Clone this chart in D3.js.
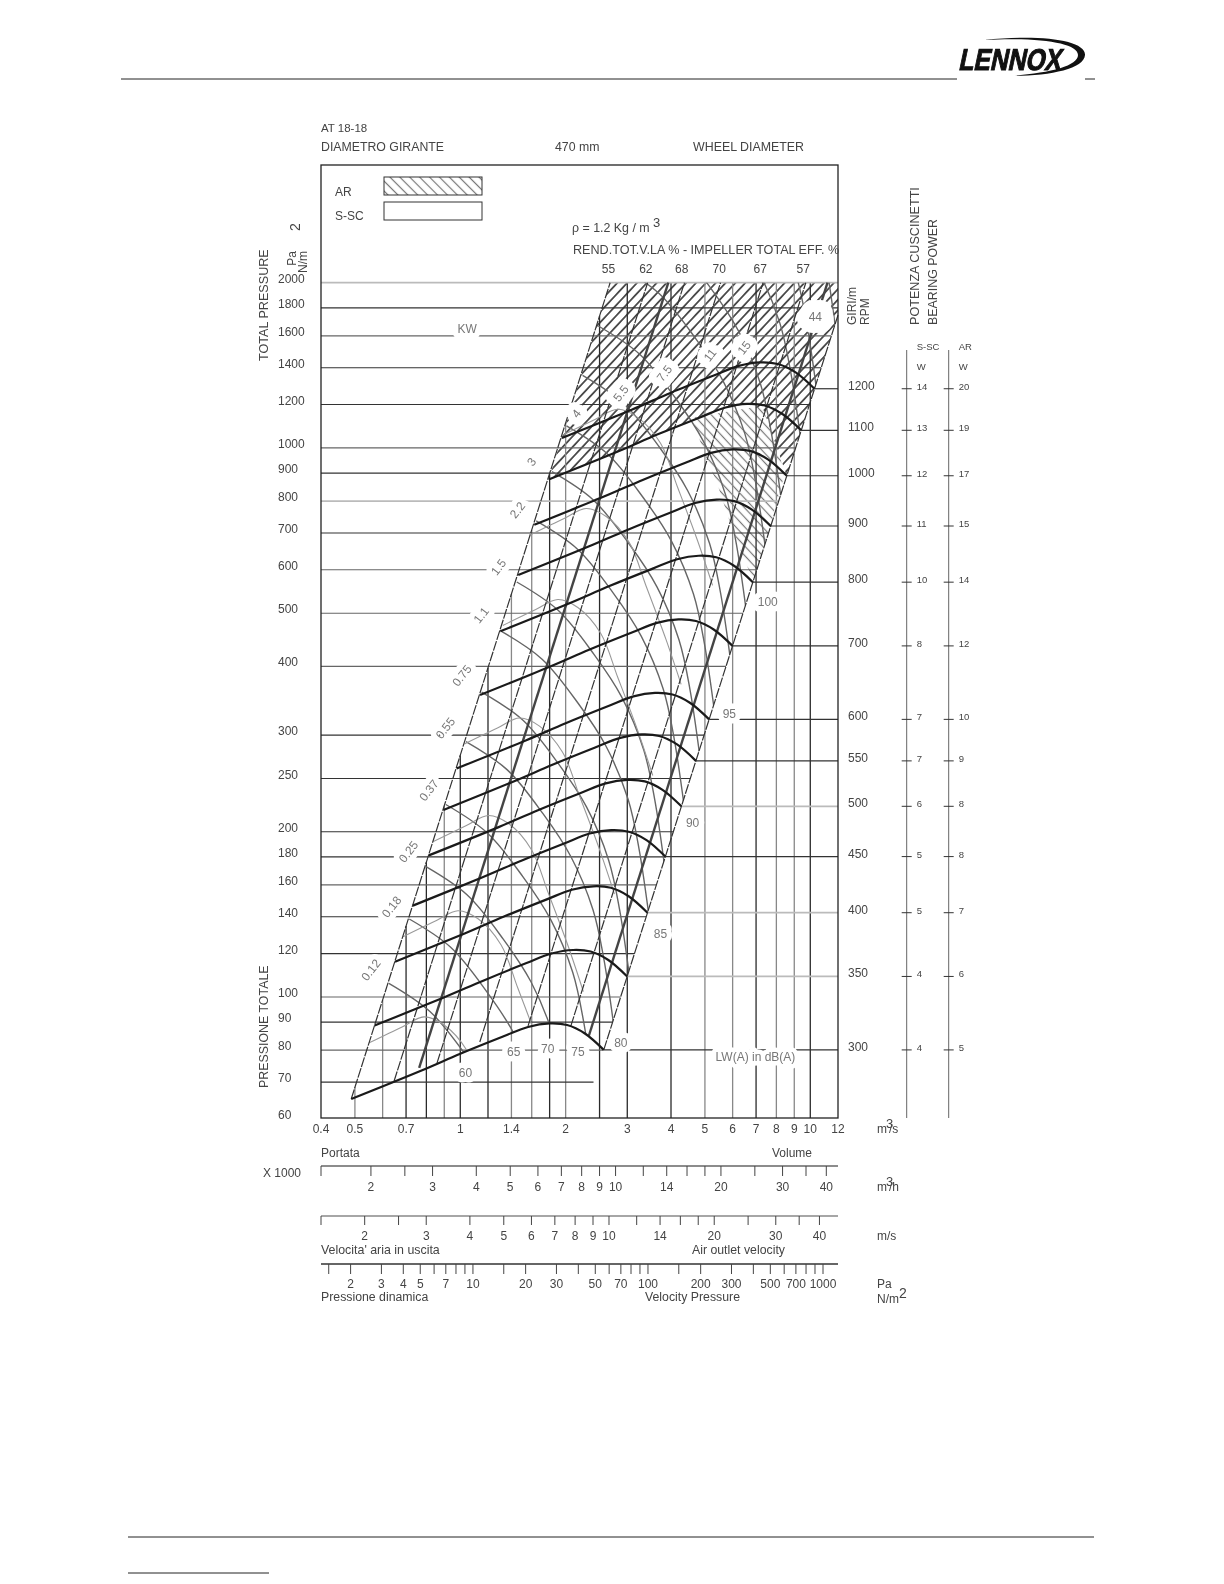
<!DOCTYPE html>
<html>
<head>
<meta charset="utf-8">
<title>AT 18-18</title>
<script src="https://cdnjs.cloudflare.com/ajax/libs/d3/7.8.5/d3.min.js"></script>
<style>
body { margin: 0; background: #fff; }
svg { display: block; filter: blur(0.4px); }
text { font-family: "Liberation Sans", Arial, sans-serif; font-size: 12px; fill: #444; }
</style>
</head>
<body>
<script>
//axis values
var volumeTicks = [0.4, 0.5, 0.6, 0.7, 0.8, 0.9, 1, 1.2, 1.4, 1.6, 1.8, 2, 2.5, 3, 4, 5, 6, 7, 8, 9, 10, 12];
var volumeLabels = [0.4, 0.5, 0.7, 1, 1.4, 2, 3, 4, 5, 6, 7, 8, 9, 10, 12];
var lightVolume = [0.5, 0.6, 0.9, 1.4, 1.6, 2, 5, 6, 8, 9];
var pressureTicks = [2000, 1800, 1600, 1400, 1200, 1000, 900, 800, 700, 600, 500, 400, 300, 250, 200, 180, 160, 140, 120, 100, 90, 80, 70, 60];
var palePressure = [2000, 800];
var midPressure = [1600, 1000, 600, 500, 400, 160, 100, 80];
var flowTicks = [1.44, 2, 2.5, 3, 4, 5, 6, 7, 8, 9, 10, 12, 14, 16, 18, 20, 25, 30, 35, 40];
var flowLabels = [2, 3, 4, 5, 6, 7, 8, 9, 10, 14, 20, 30, 40];
var speedTicks = [1.5, 2, 2.5, 3, 4, 5, 6, 7, 8, 9, 10, 12, 14, 16, 18, 20, 25, 30, 35, 40];
var speedLabels = [2, 3, 4, 5, 6, 7, 8, 9, 10, 14, 20, 30, 40];
var dynTicks = [1.5, 2, 3, 4, 5, 6, 7, 8, 9, 10, 15, 20, 30, 40, 50, 60, 70, 80, 90, 100, 150, 200, 300, 400, 500, 600, 700, 800, 900, 1000];
var dynLabels = [2, 3, 4, 5, 7, 10, 20, 30, 50, 70, 100, 200, 300, 500, 700, 1000];

//fan speed curves, volume m3/s and pressure Pa
var rpmLevels = [300, 350, 400, 450, 500, 550, 600, 700, 800, 900, 1000, 1100, 1200];
var rpmPale = [500, 400, 350];
var rpmQ = [
    [0.488, 0.772, 1.0, 1.325, 1.562, 1.80, 2.02, 2.27, 2.57],
    [0.569, 0.901, 1.167, 1.546, 1.822, 2.10, 2.357, 2.648, 2.998],
    [0.651, 1.029, 1.333, 1.767, 2.083, 2.40, 2.693, 3.027, 3.427],
    [0.732, 1.158, 1.5, 1.988, 2.343, 2.70, 3.03, 3.405, 3.855],
    [0.813, 1.287, 1.667, 2.208, 2.603, 3.0, 3.367, 3.783, 4.283],
    [0.895, 1.415, 1.833, 2.429, 2.864, 3.30, 3.703, 4.162, 4.712],
    [0.976, 1.544, 2, 2.65, 3.124, 3.60, 4.04, 4.54, 5.14],
    [1.139, 1.801, 2.333, 3.092, 3.645, 4.20, 4.713, 5.297, 5.997],
    [1.301, 2.059, 2.667, 3.533, 4.165, 4.80, 5.387, 6.053, 6.853],
    [1.464, 2.316, 3, 3.975, 4.686, 5.40, 6.06, 6.81, 7.71],
    [1.627, 2.573, 3.333, 4.417, 5.207, 6.0, 6.733, 7.567, 8.567],
    [1.789, 2.831, 3.667, 4.858, 5.727, 6.6, 7.407, 8.323, 9.423],
    [1.952, 3.088, 4, 5.30, 6.248, 7.2, 8.08, 9.08, 10.28]
];
var rpmP = [
    [65.2, 73.4, 78.8, 84.7, 88.2, 89.5, 88.9, 85.8, 80.1],
    [88.7, 99.9, 107.2, 115.3, 120, 121.8, 121, 116.8, 109],
    [115.9, 130.5, 140.1, 150.6, 156.8, 159.1, 158.1, 152.6, 142.4],
    [146.7, 165.2, 177.3, 190.6, 198.5, 201.4, 200, 193.1, 180.2],
    [181.1, 203.9, 218.9, 235.3, 245, 248.6, 247, 238.4, 222.5],
    [219.1, 246.7, 264.8, 284.7, 296.4, 300.8, 298.8, 288.4, 269.2],
    [260.8, 293.6, 315.2, 338.8, 352.8, 358, 355.6, 343.2, 320.4],
    [354.9, 399.6, 429, 461.1, 480.2, 487.2, 484, 467.1, 436],
    [463.6, 522, 560.4, 602.3, 627.2, 636.4, 632.2, 610.1, 569.6],
    [586.8, 660.6, 709.2, 762.3, 793.8, 805.5, 800.1, 772.2, 720.9],
    [724.4, 815.5, 875.5, 941, 979.9, 994.3, 987.7, 953.2, 890],
    [876.5, 986.5, 1059, 1138, 1185, 1203, 1195, 1153, 1077],
    [1043, 1174, 1261, 1355, 1411, 1432, 1422, 1373, 1282]
];

//bearing power in W for each speed, top to bottom
var bearingRpm = [1200, 1100, 1000, 900, 800, 700, 600, 550, 500, 450, 400, 350, 300];
var bearingSsc = [14, 13, 12, 11, 10, 8, 7, 7, 6, 5, 5, 4, 4];
var bearingAr = [20, 19, 17, 15, 14, 12, 10, 9, 8, 8, 7, 6, 5];

//kW lines
var kwQ = [
    [0.625, 0.819, 1.038, 1.247, 1.441, 1.549, 1.676, 1.79, 1.913],
    [0.715, 0.937, 1.187, 1.426, 1.649, 1.772, 1.918, 2.048, 2.188],
    [0.798, 1.045, 1.325, 1.592, 1.84, 1.978, 2.14, 2.285, 2.442],
    [0.909, 1.191, 1.509, 1.813, 2.096, 2.253, 2.438, 2.603, 2.782],
    [1.038, 1.36, 1.723, 2.071, 2.394, 2.573, 2.784, 2.973, 3.176],
    [1.151, 1.508, 1.911, 2.296, 2.654, 2.853, 3.087, 3.296, 3.522],
    [1.308, 1.713, 2.171, 2.609, 3.016, 3.242, 3.508, 3.746, 4.002],
    [1.45, 1.9, 2.407, 2.893, 3.344, 3.595, 3.889, 4.153, 4.437],
    [1.648, 2.159, 2.736, 3.288, 3.8, 4.085, 4.42, 4.72, 5.043],
    [1.828, 2.395, 3.034, 3.647, 4.215, 4.532, 4.903, 5.235, 5.594],
    [2.011, 2.634, 3.338, 4.012, 4.637, 4.985, 5.393, 5.76, 6.154],
    [2.236, 2.929, 3.712, 4.461, 5.156, 5.543, 5.997, 6.404, 6.842],
    [2.48, 3.249, 4.117, 4.948, 5.719, 6.148, 6.651, 7.103, 7.589],
    [2.818, 3.692, 4.678, 5.622, 6.498, 6.986, 7.558, 8.071, 8.623],
    [3.125, 4.094, 5.188, 6.234, 7.206, 7.747, 8.381, 8.95, 9.563],
    [3.55, 4.651, 5.893, 7.082, 8.186, 8.8, 9.521, 10.17, 10.86],
    [3.94, 5.161, 6.54, 7.86, 9.086, 9.767, 10.57, 11.28, 12.06],
    [4.47, 5.856, 7.42, 8.918, 10.31, 11.08, 11.99, 12.8, 13.68]
];
var kwP = [
    [105.9, 94.1, 78.3, 65.3, 52.3, 42.5, 30.1, 21.5, 14.7],
    [138.7, 123.3, 102.5, 85.6, 68.5, 55.6, 39.4, 28.2, 19.3],
    [172.7, 153.5, 127.6, 106.6, 85.3, 69.3, 49, 35.1, 24],
    [224.2, 199.3, 165.7, 138.3, 110.8, 89.9, 63.7, 45.5, 31.2],
    [291.9, 259.5, 215.7, 180.1, 144.2, 117.1, 82.9, 59.3, 40.6],
    [359.3, 319.4, 265.5, 221.7, 177.5, 144.1, 102, 72.9, 49.9],
    [463.9, 412.4, 342.8, 286.2, 229.2, 186, 131.7, 94.2, 64.5],
    [570, 506.7, 421.2, 351.7, 281.6, 228.6, 161.9, 115.7, 79.2],
    [736.4, 654.7, 544.2, 454.4, 363.8, 295.3, 209.1, 149.5, 102.4],
    [905.4, 804.9, 669.1, 558.6, 447.3, 363.1, 257.1, 183.8, 125.9],
    [1097, 975.2, 810.7, 676.8, 541.9, 439.9, 311.5, 222.7, 152.5],
    [1356, 1205, 1002, 836.7, 669.9, 543.8, 385.1, 275.3, 188.5],
    [1668, 1483, 1233, 1029, 824, 668.9, 473.7, 338.6, 231.9],
    [2152, 1913, 1590, 1328, 1063, 863, 611, 437, 299],
    [2648, 2354, 1957, 1634, 1308, 1062, 752, 538, 368],
    [3416, 3037, 2524, 2108, 1688, 1370, 970, 693, 475],
    [4204, 3737, 3107, 2594, 2077, 1686, 1194, 853, 584],
    [5412, 4811, 3999, 3339, 2674, 2170, 1537, 1099, 752]
];
var kwLabels = ['0.12', '0.18', '0.25', '0.37', '0.55', '0.75', '1.1', '1.5', '2.2', '3', '4', '5.5', '7.5', '11', '15', '44'];
var kwLabelQ = [0.555, 0.636, 0.711, 0.813, 0.906, 1.01, 1.147, 1.286, 1.456, 1.597, 2.145, 2.876, 3.83, 5.17, 6.47, 10.34];
var kwLabelP = [112, 146, 184, 238, 309, 385, 496, 607, 771, 944, 1156, 1258, 1368, 1477, 1523, 1735];

//noise lines
var lwQ = [
    [0.549, 0.682, 0.788, 0.899, 1.046, 1.170, 1.333, 1.472],
    [0.686, 0.852, 0.985, 1.124, 1.307, 1.462, 1.666, 1.840],
    [0.838, 1.041, 1.203, 1.373, 1.596, 1.786, 2.035, 2.247],
    [1.028, 1.277, 1.476, 1.684, 1.958, 2.191, 2.496, 2.757],
    [1.323, 1.643, 1.900, 2.167, 2.520, 2.819, 3.212, 3.548],
    [1.594, 1.980, 2.289, 2.611, 3.037, 3.397, 3.870, 4.275],
    [1.96, 2.434, 2.815, 3.210, 3.734, 4.177, 4.759, 5.257]
];
var lwP = [
    [82.5, 88.2, 92.0, 88.9, 79.8, 66.3, 53.1, 44],
    [128.8, 137.7, 143.6, 138.8, 124.5, 103.6, 82.9, 68.6],
    [192, 205.2, 214.1, 207, 185.7, 154.4, 123.6, 102.3],
    [289, 308.9, 322.2, 311.5, 279.5, 232.4, 186.1, 154],
    [475, 507.8, 529.6, 512.1, 459.3, 381.9, 305.9, 253.2],
    [696, 744, 776, 750, 673, 560, 448, 371],
    [1055, 1128, 1176, 1137, 1020, 848, 679, 562]
];
var lwLabels = [60, 65, 70, 75, 80, 85, 90, 95, 100];
var lwLabelQ = [1.035, 1.422, 1.777, 2.17, 2.876, 3.73, 4.61, 5.87, 7.56];
var lwLabelP = [72.7, 79.5, 80.6, 79.5, 82.4, 130.6, 207.2, 327.7, 524.8];

//efficiency lines, bottom point and top point
var effLabels = [55, 62, 68, 70, 67, 57];
var effLabelQ = [2.65, 3.39, 4.29, 5.49, 7.19, 9.54];
var dashQ = [[0.488, 2.68], [0.647, 3.43], [0.858, 4.37], [1.137, 5.54], [1.562, 7.33], [2.07, 9.71], [2.57, 12]];
var dashP = [[65.2, 2000], [70.3, 2000], [75.8, 2000], [82.8, 2000], [88.6, 2000], [88.6, 2000], [80.1, 1746]];
var thickQ = [[0.763, 3.93], [2.33, 11.2]];
var thickP = [[74.3, 2000], [85, 2000]];

//hatched limits
var arOuterQ = [2.68, 12, 12, 10.28, 9.423, 8.567, 7.36];
var arOuterP = [2000, 2000, 1746, 1282, 1077, 890, 1171];
var sscQ = [4.6, 7.1, 7.36, 8.47, 6.89, 6.31, 5.82, 5.42, 4.94];
var sscP = [1136, 1190, 1171, 900, 571, 652, 750, 862, 992];

var svgCanvasW = 1224, svgCanvasH = 1584;
var left = 321, right = 838, top_ = 165, bottom = 1118;

var mainLayout = d3.select('body')
    .append('svg')
    .attr('width', svgCanvasW)
    .attr('height', svgCanvasH);

var x = d3.scaleLog().domain([0.4, 12]).range([left, right]);
var y = d3.scaleLog().domain([60, 2000]).range([bottom + 0.8, 282.7]);
var flowX = d3.scaleLog().domain([1.44, 43.2]).range([left, right]);
var speedX = d3.scaleLog().domain([1.5, 45.2]).range([left, right]);
var dynX = d3.scaleLog().domain([1.355, 1218]).range([left, right]);

var zip = function (qs, ps) { return qs.map(function (q, i) { return [x(q), y(ps[i])]; }); };
var curve = d3.line().curve(d3.curveCatmullRom.alpha(0.5));
var straight = d3.line();

//left and right limits of the working area
var leftEdgeY = d3.scaleLog().domain([dashQ[0][0], dashQ[0][1]]).range([y(dashP[0][0]), y(dashP[0][1])]);
var rightEdgeX = d3.scaleLog().domain([dashP[6][0], dashP[6][1]]).range([x(dashQ[6][0]), x(dashQ[6][1])]);

var defs = mainLayout.append('defs');
function hatch(id, angle, gap, color, width) {
    var p = defs.append('pattern')
        .attr('id', id)
        .attr('patternUnits', 'userSpaceOnUse')
        .attr('width', gap).attr('height', gap)
        .attr('patternTransform', 'rotate(' + angle + ')');
    p.append('line').attr('x1', gap / 2).attr('y1', 0).attr('x2', gap / 2).attr('y2', gap)
        .attr('stroke', color).attr('stroke-width', width);
}
hatch('hatchFw', 43, 7.2, '#333', 1.6);
hatch('hatchBk', -43, 6.5, '#777', 1.2);
hatch('hatchLegend', -45, 7, '#777', 1.2);

//area clip, left edge, top, right edge then the 300 rpm curve back
var areaPts = [[x(dashQ[0][1]), y(2000)], [x(12), y(2000)], [x(dashQ[6][1]), y(dashP[6][1])]];
var clipPath = 'M' + areaPts.join('L') + 'L' + curve(zip(rpmQ[0], rpmP[0]).reverse()).slice(1) + 'Z';
defs.append('clipPath').attr('id', 'areaClip').append('path').attr('d', clipPath);

//hatched regions
var arPts = zip(arOuterQ, arOuterP).concat(zip(rpmQ[11].slice(0, 6), rpmP[11].slice(0, 6)).reverse());
mainLayout.append('path').attr('d', straight(arPts) + 'Z').style('fill', 'url(#hatchFw)');
mainLayout.append('path').attr('d', straight(zip(sscQ, sscP)) + 'Z').style('fill', 'url(#hatchBk)');

//vertical grid, from the axis up to the left edge of the area
mainLayout.append('g').selectAll('line').data(volumeTicks.slice(1, -1)).enter().append('line')
    .attr('x1', function (d) { return x(d); })
    .attr('x2', function (d) { return x(d); })
    .attr('y1', bottom)
    .attr('y2', function (d) { return Math.max(leftEdgeY(d), y(2000)); })
    .style('stroke', function (d) { return lightVolume.indexOf(d) >= 0 ? '#888' : '#2a2a2a'; })
    .style('stroke-width', 1.3);

//horizontal grid, from the frame to the right edge of the area
mainLayout.append('g').selectAll('line').data(pressureTicks.slice(0, -1)).enter().append('line')
    .attr('x1', left)
    .attr('x2', function (d) { return d == 2000 ? right : Math.min(rightEdgeX(d), right); })
    .attr('y1', function (d) { return y(d); })
    .attr('y2', function (d) { return y(d); })
    .style('stroke', function (d) {
        return palePressure.indexOf(d) >= 0 ? '#bbb' : (midPressure.indexOf(d) >= 0 ? '#666' : '#333');
    })
    .style('stroke-width', function (d) { return palePressure.indexOf(d) >= 0 ? 1.7 : 1.2; });

//speed lines out to the right of the frame
mainLayout.append('g').selectAll('line').data(rpmLevels).enter().append('line')
    .attr('x1', function (d, i) { return x(rpmQ[i][8]); })
    .attr('x2', right)
    .attr('y1', function (d, i) { return y(rpmP[i][8]); })
    .attr('y2', function (d, i) { return y(rpmP[i][8]); })
    .style('stroke', function (d) { return rpmPale.indexOf(d) >= 0 ? '#bbb' : '#333'; })
    .style('stroke-width', function (d) { return rpmPale.indexOf(d) >= 0 ? 1.7 : 1.2; });

//kW and noise lines
var clipped = mainLayout.append('g').attr('clip-path', 'url(#areaClip)');
clipped.selectAll('path.kw').data(kwQ).enter().append('path')
    .attr('class', 'kw')
    .attr('d', function (d, i) { return curve(zip(d, kwP[i])); })
    .style('fill', 'none').style('stroke', '#666').style('stroke-width', 1.4);
clipped.selectAll('path.lw').data(lwQ).enter().append('path')
    .attr('class', 'lw')
    .attr('d', function (d, i) { return curve(zip(d, lwP[i])); })
    .style('fill', 'none').style('stroke', '#999').style('stroke-width', 1.1);

//efficiency lines
mainLayout.append('g').selectAll('path').data(dashQ).enter().append('path')
    .attr('d', function (d, i) { return straight(zip(d, dashP[i])); })
    .style('fill', 'none').style('stroke', '#333').style('stroke-width', 1.2).style('stroke-dasharray', '10,1.2');
mainLayout.append('g').selectAll('path').data(thickQ).enter().append('path')
    .attr('d', function (d, i) { return straight(zip(d, thickP[i])); })
    .style('fill', 'none').style('stroke', '#444').style('stroke-width', 2.4);

//fan speed curves
mainLayout.append('g').selectAll('path').data(rpmQ).enter().append('path')
    .attr('d', function (d, i) { return curve(zip(d, rpmP[i])); })
    .style('fill', 'none').style('stroke', '#1a1a1a').style('stroke-width', 2.2);

//frame
mainLayout.append('rect')
    .attr('x', left).attr('y', top_)
    .attr('width', right - left).attr('height', bottom - top_)
    .style('fill', 'none').style('stroke', '#222').style('stroke-width', 1.3);

//labels sitting on the lines, with a white gap round them
function halo(text, px, py, rotate, size) {
    return mainLayout.append('text')
        .attr('text-anchor', 'middle')
        .attr('transform', 'translate(' + px + ',' + py + ') rotate(' + (rotate || 0) + ')')
        .attr('dy', '0.35em')
        .text(text)
        .style('fill', '#777')
        .style('stroke', '#fff')
        .style('stroke-width', size || 11)
        .style('stroke-linejoin', 'round')
        .style('paint-order', 'stroke');
}
kwLabels.forEach(function (d, i) {
    var blob = d == '44' ? 24 : (i >= 10 ? 15 : 11);
    halo(d, x(kwLabelQ[i]), y(kwLabelP[i]), d == '44' ? 0 : -52, blob);
});
lwLabels.forEach(function (d, i) { halo(d, x(lwLabelQ[i]), y(lwLabelP[i]), 0); });
halo('KW', x(1.047), y(1645), 0);
halo('LW(A) in dB(A)', x(6.97), y(77.8), 0, 9);

//plain text helper
function label(text, px, py, anchor, rotate, size) {
    return mainLayout.append('text')
        .attr('text-anchor', anchor || 'start')
        .attr('transform', 'translate(' + px + ',' + py + ') rotate(' + (rotate || 0) + ')')
        .style('font-size', (size || 12) + 'px')
        .text(text);
}

//efficiency values
effLabels.forEach(function (d, i) { label(d, x(effLabelQ[i]), y(2000) - 10, 'middle'); });

//left and right scale values
pressureTicks.forEach(function (d) { label(d, 278, y(d)); });
rpmLevels.forEach(function (d, i) { label(d, 848, y(rpmP[i][8]) + 1); });

//headers
label('AT 18-18', 321, 132, 'start', 0, 11.5);
label('DIAMETRO GIRANTE', 321, 151, 'start', 0, 12.3);
label('470 mm', 555, 151, 'start', 0, 12.3);
label('WHEEL DIAMETER', 693, 151, 'start', 0, 12.4);
label('AR', 335, 196);
label('S-SC', 335, 220);
mainLayout.append('rect').attr('x', 384).attr('y', 177).attr('width', 98).attr('height', 18)
    .style('fill', 'url(#hatchLegend)').style('stroke', '#333');
mainLayout.append('rect').attr('x', 384).attr('y', 202).attr('width', 98).attr('height', 18)
    .style('fill', 'none').style('stroke', '#333');
label('\u03C1 = 1.2 Kg / m', 572, 232, 'start', 0, 12.4);
label('3', 653, 227, 'start', 0, 13);
label('REND.TOT.V.LA % - IMPELLER TOTAL EFF. %', 573, 254, 'start', 0, 12.6);

//rotated titles
label('TOTAL PRESSURE', 268, 361, 'start', -90, 12.6);
label('Pa', 296, 251, 'end', -90);
label('N/m', 307, 251, 'end', -90);
label('2', 300, 231, 'start', -90, 14);
label('PRESSIONE TOTALE', 268, 1088, 'start', -90, 12.4);
label('GIRI/m', 856, 325, 'start', -90);
label('RPM', 869, 325, 'start', -90);
label('POTENZA CUSCINETTI', 919, 325, 'start', -90, 12.6);
label('BEARING POWER', 937, 325, 'start', -90, 12.4);

//bearing power scales
[[906.7, bearingSsc, 'S-SC'], [948.7, bearingAr, 'AR']].forEach(function (b) {
    mainLayout.append('line').attr('x1', b[0]).attr('x2', b[0]).attr('y1', 350).attr('y2', bottom)
        .style('stroke', '#666');
    label(b[2], b[0] + 10, 350, 'start', 0, 9.5);
    label('W', b[0] + 10, 370, 'start', 0, 9.5);
    mainLayout.append('g').selectAll('line').data(bearingRpm).enter().append('line')
        .attr('x1', b[0] - 5).attr('x2', b[0] + 5)
        .attr('y1', function (d) { return y(rpmP[rpmLevels.indexOf(d)][8]); })
        .attr('y2', function (d) { return y(rpmP[rpmLevels.indexOf(d)][8]); })
        .style('stroke', '#333');
    bearingRpm.forEach(function (d, i) {
        label(b[1][i], b[0] + 10, y(rpmP[rpmLevels.indexOf(d)][8]) + 1, 'start', 0, 9.5);
    });
});

//volume labels under the frame
volumeLabels.forEach(function (d) { label(d, x(d), 1133, 'middle'); });
label('m', 877, 1133);
label('3', 886, 1128, 'start', 0, 13);
label('/s', 889, 1133);
label('Portata', 321, 1157);
label('Volume', 792, 1157, 'middle');
label('X 1000', 263, 1177);

//lower log scales
function scaleBar(scale, ticks, labels, lineY, tickLen, labelY, axisColor) {
    mainLayout.append('line').attr('x1', left).attr('x2', right).attr('y1', lineY).attr('y2', lineY)
        .style('stroke', axisColor).style('stroke-width', 1.3);
    mainLayout.append('g').selectAll('line').data(ticks).enter().append('line')
        .attr('x1', function (d) { return scale(d); })
        .attr('x2', function (d) { return scale(d); })
        .attr('y1', lineY).attr('y2', lineY + tickLen)
        .style('stroke', '#444');
    labels.forEach(function (d) { label(d, scale(d), labelY, 'middle'); });
}
scaleBar(flowX, flowTicks, flowLabels, 1166, 10, 1191, '#666');
scaleBar(speedX, speedTicks, speedLabels, 1216, 9, 1240, '#888');
scaleBar(dynX, dynTicks, dynLabels, 1264, 10, 1288, '#333');

label('m', 877, 1191);
label('3', 886, 1186, 'start', 0, 13);
label('/h', 889, 1191);
label('m/s', 877, 1240);
label("Velocita' aria in uscita", 321, 1254, 'start', 0, 12.4);
label('Air outlet velocity', 692, 1254, 'start', 0, 12.3);
label('Pressione dinamica', 321, 1301, 'start', 0, 12.3);
label('Velocity Pressure', 645, 1301, 'start', 0, 12.3);
label('Pa', 877, 1288);
label('N/m', 877, 1303);
label('2', 899, 1298, 'start', 0, 14);

//page furniture
var rules = [[121, 957, 79], [1085, 1095, 79], [128, 1094, 1537], [128, 269, 1573]];
mainLayout.append('g').selectAll('line').data(rules).enter().append('line')
    .attr('x1', function (d) { return d[0]; })
    .attr('x2', function (d) { return d[1]; })
    .attr('y1', function (d) { return d[2]; })
    .attr('y2', function (d) { return d[2]; })
    .style('stroke', '#222');

//logo
mainLayout.append('text')
    .attr('transform', 'translate(958,70) skewX(-12) scale(0.82,1)')
    .text('LENNOX')
    .style('font-size', '30px').style('font-weight', 'bold').style('fill', '#111')
    .style('stroke', '#111').style('stroke-width', 1);
mainLayout.append('path')
    .attr('d', 'M984,40 C1040,34 1086,40 1085,55 C1084,69 1050,76 1010,76 C1050,73 1078,66 1078,55 C1078,43 1040,37 984,40Z')
    .style('fill', '#111');
</script>
</body>
</html>
